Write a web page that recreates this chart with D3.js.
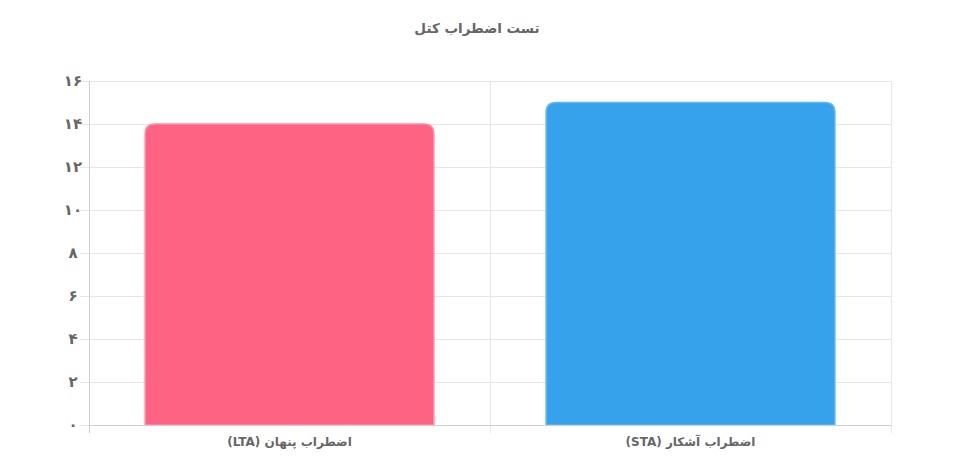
<!DOCTYPE html>
<html><head><meta charset="utf-8">
<script src="https://cdn.jsdelivr.net/npm/d3@7/dist/d3.min.js"></script>
<style>body{margin:0;background:#fff;}svg{display:block;font-family:"DejaVu Sans",sans-serif;}</style>
</head><body>
<svg id="c" width="977" height="467"></svg>
<script>
const categories = ["اضطراب پنهان (LTA)", "اضطراب آشکار (STA)"];
const values = [14, 15];
const fills = ["#ff6384", "#36a2eb"];
const strokes = ["#ff8aa3", "#5cb6f0"];
const yTicks = [0, 2, 4, 6, 8, 10, 12, 14, 16];
const title = "تست اضطراب کتل";

const svg = d3.select("#c");
const m = {l: 89, r: 86, t: 81, b: 42};
const W = 977, H = 467;
const x = d3.scaleBand().domain(categories).range([m.l, W - m.r]).paddingInner(0).paddingOuter(0);
const y = d3.scaleLinear().domain([0, 16]).range([H - m.b, m.t]);
const fa = n => String(n).replace(/\d/g, d => "۰۱۲۳۴۵۶۷۸۹"[d]);

// horizontal grid
svg.append("g").selectAll("line").data(yTicks).join("line")
  .attr("x1", m.l - 9).attr("x2", W - m.r)
  .attr("y1", d => y(d) + 0.5).attr("y2", d => y(d) + 0.5)
  .attr("stroke", "#e6e6e6").attr("stroke-width", 1);
// vertical grid
const vx = [m.l, m.l + x.bandwidth(), W - m.r];
svg.append("g").selectAll("line").data(vx).join("line")
  .attr("x1", d => d + 0.5).attr("x2", d => d + 0.5)
  .attr("y1", m.t).attr("y2", H - m.b + 8)
  .attr("stroke", (d, i) => i === 0 ? "#cfcfcf" : "#e6e6e6");
// y labels
svg.append("g").selectAll("text").data(yTicks).join("text")
  .attr("x", 73).attr("y", d => y(d)).attr("dy", "0.35em")
  .attr("text-anchor", "middle").attr("fill", "#666").attr("font-weight", "bold").attr("font-size", 15)
  .text(d => fa(d));

// bars with rounded top
const bw = x.bandwidth() * 0.72;
const r = 10;
function barPath(x0, x1, yt, yb) {
  return `M${x0},${yb}V${yt + r}Q${x0},${yt} ${x0 + r},${yt}H${x1 - r}Q${x1},${yt} ${x1},${yt + r}V${yb}Z`;
}
svg.append("g").selectAll("path").data(categories).join("path")
  .attr("d", (d, i) => {
    const cx = x(d) + x.bandwidth() / 2;
    return barPath(cx - bw / 2, cx + bw / 2, y(values[i]), y(0));
  })
  .attr("fill", (d, i) => fills[i]).attr("stroke", (d, i) => strokes[i]).attr("stroke-width", 1.5);

// x axis baseline
svg.append("line").attr("x1", m.l).attr("x2", W - m.r).attr("y1", y(0) + 0.5).attr("y2", y(0) + 0.5)
  .attr("stroke", "#cfcfcf");

// x labels
svg.append("g").selectAll("text").data(categories).join("text")
  .attr("x", d => x(d) + x.bandwidth() / 2).attr("y", 446)
  .attr("text-anchor", "middle").attr("fill", "#666").attr("font-weight", "bold").attr("font-size", 12)
  .attr("direction", "rtl")
  .text(d => d);

// title
svg.append("text").attr("x", 477).attr("y", 33).attr("text-anchor", "middle")
  .attr("fill", "#666").attr("font-weight", "bold").attr("font-size", 13.5).attr("direction", "rtl")
  .text(title);
</script>
</body></html>
